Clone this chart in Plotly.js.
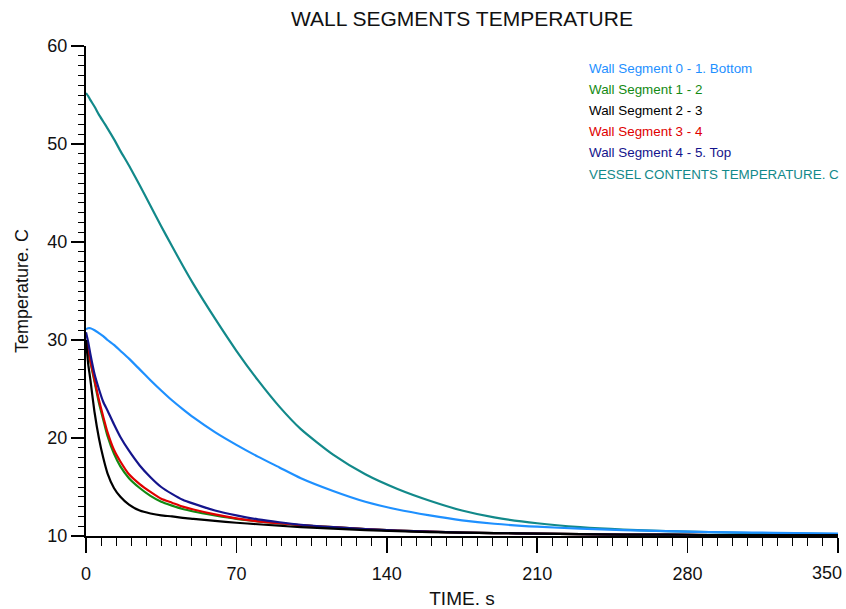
<!DOCTYPE html>
<html>
<head>
<meta charset="utf-8">
<script src="https://cdn.plot.ly/plotly-3.0.1.min.js"></script>
<style>html,body{margin:0;padding:0;background:#fff;}#chart{width:846px;height:609px;}</style>
</head>
<body>
<div id="chart"></div>
<script>
// Time samples (s)
const time = [0,1,2,4,6,8,10,13,16,20,25,30,35,40,45,50,60,70,80,90,100,115,130,145,160,175,190,210,230,250,270,290,310,330,350];

// Series values (Temperature, C)
const seg0 = [31.1,31.2,31.2,31.0,30.7,30.4,30.0,29.5,28.9,28.1,27.0,25.9,24.85,23.85,22.95,22.1,20.6,19.3,18.1,17.0,15.9,14.6,13.5,12.7,12.1,11.6,11.25,10.95,10.75,10.6,10.5,10.4,10.35,10.3,10.25];
const seg1 = [30.0,28.9,27.8,25.7,23.6,21.9,20.2,18.4,17.1,15.9,14.9,14.1,13.5,13.1,12.75,12.5,12.1,11.75,11.5,11.3,11.1,10.9,10.7,10.55,10.45,10.35,10.3,10.25,10.2,10.15,10.15,10.1,10.1,10.1,10.1];
const seg2 = [30.0,27.6,26.0,22.6,20.0,18.0,16.4,14.9,14.0,13.2,12.6,12.3,12.1,12.0,11.85,11.75,11.55,11.35,11.2,11.05,10.9,10.75,10.6,10.5,10.4,10.35,10.3,10.25,10.2,10.15,10.15,10.1,10.1,10.1,10.1];
const seg3 = [30.0,29.0,27.9,25.9,23.9,22.2,20.6,18.8,17.6,16.3,15.3,14.5,13.8,13.4,13.0,12.7,12.2,11.8,11.5,11.3,11.1,10.9,10.7,10.55,10.45,10.35,10.3,10.25,10.2,10.15,10.15,10.1,10.1,10.1,10.1];
const seg4 = [30.8,29.8,28.6,26.5,25.0,23.7,22.8,21.4,20.1,18.7,17.2,16.0,15.0,14.3,13.7,13.3,12.6,12.1,11.7,11.4,11.15,10.9,10.7,10.55,10.45,10.35,10.3,10.25,10.2,10.15,10.15,10.1,10.1,10.1,10.1];
const vessel = [55.2,54.9,54.5,53.8,53.0,52.3,51.6,50.5,49.3,47.8,45.8,43.7,41.6,39.6,37.6,35.7,32.2,28.9,25.9,23.2,20.9,18.3,16.3,14.8,13.6,12.6,11.9,11.3,10.9,10.65,10.5,10.4,10.3,10.25,10.2];

const names = ["Wall Segment 0 - 1. Bottom","Wall Segment 1 - 2","Wall Segment 2 - 3","Wall Segment 3 - 4","Wall Segment 4 - 5. Top","VESSEL CONTENTS TEMPERATURE. C"];
const seriesList = [seg0, seg1, seg2, seg3, seg4, vessel];
const colors = ["#1e90ff","#138a13","#000000","#e00000","#14148c","#12898a"];

const xTicks = [0,70,140,210,280,350];
const xTickText = ["0","70","140","210","280",""];
const lastXTickLabel = "350";
const yTicks = [10,20,30,40,50,60];

const font = "Liberation Sans, Arial, sans-serif";

// draw order: vessel & seg0 first, then the fast ones
const order = [5,0,1,3,4,2];
const traces = order.map(i => ({
  x: time, y: seriesList[i], type: "scatter", mode: "lines",
  name: names[i], line: {color: colors[i], width: 2.2, shape: "spline", smoothing: 0.6}, showlegend: false
}));

const annotations = names.map((n, i) => ({
  text: n, xref: "paper", yref: "paper",
  x: (587 - 86) / 752, y: (536 - (68 + i * 21.2)) / 490,
  xanchor: "left", yanchor: "middle", showarrow: false,
  font: {family: font, size: 13.4, color: colors[i]}
}));
// last x tick label, kept inside the picture edge like the reference
annotations.push({
  text: lastXTickLabel, xref: "x", yref: "paper", x: xTicks[xTicks.length - 1], y: 0,
  xanchor: "right", yanchor: "top", xshift: 6, yshift: -25, showarrow: false,
  font: {family: font, size: 18, color: "#111"}
});

const layout = {
  width: 846, height: 609,
  margin: {l: 86, r: 8, t: 46, b: 73},
  paper_bgcolor: "#ffffff", plot_bgcolor: "#ffffff",
  title: {text: "WALL SEGMENTS TEMPERATURE", font: {family: font, size: 21, color: "#111"},
          x: 0.5, xref: "paper", xanchor: "center", y: 1 - 19/609, yanchor: "middle"},
  xaxis: {
    range: [0, 350], tickvals: xTicks, ticktext: xTickText, ticklabelstandoff: 5,
    showgrid: false, zeroline: false, showline: true, linecolor: "#000", linewidth: 2,
    ticks: "outside", ticklen: 15, tickwidth: 1.5, tickcolor: "#000",
    minor: {dtick: 7, ticks: "outside", ticklen: 8, tickwidth: 1, tickcolor: "#000", showgrid: false},
    tickfont: {family: font, size: 18, color: "#111"},
    title: {text: "TIME. s", font: {family: font, size: 19, color: "#111"}, standoff: 10}
  },
  yaxis: {
    range: [10, 60], tickvals: yTicks, ticktext: yTicks.map(String),
    showgrid: false, zeroline: false, showline: true, linecolor: "#000", linewidth: 2,
    ticks: "outside", ticklen: 13, tickwidth: 1.5, tickcolor: "#000",
    minor: {dtick: 1, ticks: "outside", ticklen: 6, tickwidth: 1, tickcolor: "#000", showgrid: false},
    tickfont: {family: font, size: 18, color: "#111"},
    title: {text: "Temperature. C", font: {family: font, size: 18, color: "#111"}, standoff: 14}
  },
  annotations: annotations,
  showlegend: false
};

Plotly.newPlot("chart", traces, layout, {displayModeBar: false, staticPlot: true});
</script>
</body>
</html>
